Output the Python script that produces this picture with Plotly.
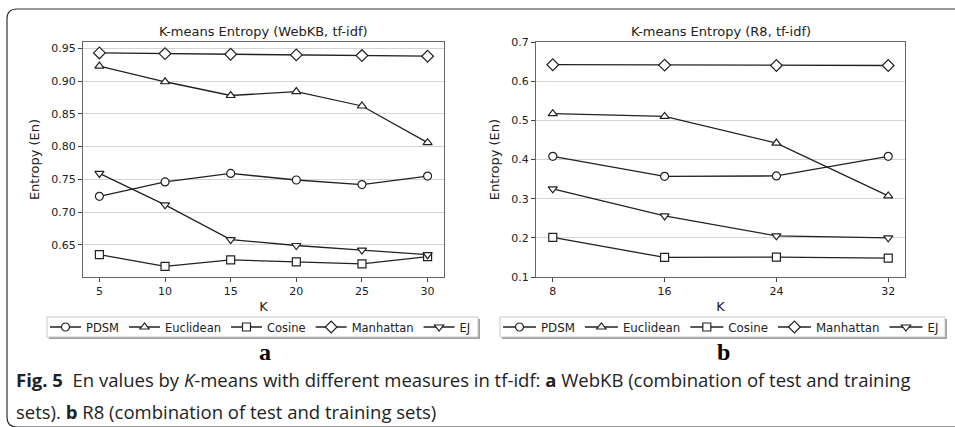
import plotly.graph_objects as go

W, H = 955, 427

names = ["PDSM", "Euclidean", "Cosine", "Manhattan", "EJ"]
symbols = ["circle", "triangle-up", "square", "diamond", "triangle-down"]
marker_sizes = [8, 8, 8, 9, 8]

k_webkb = [5, 10, 15, 20, 25, 30]
webkb_pdsm = [0.724, 0.746, 0.759, 0.749, 0.742, 0.755]
webkb_euclidean = [0.923, 0.899, 0.878, 0.884, 0.862, 0.806]
webkb_cosine = [0.635, 0.617, 0.627, 0.624, 0.621, 0.632]
webkb_manhattan = [0.943, 0.942, 0.941, 0.940, 0.939, 0.938]
webkb_ej = [0.759, 0.711, 0.658, 0.649, 0.642, 0.635]

k_r8 = [8, 16, 24, 32]
r8_pdsm = [0.408, 0.357, 0.358, 0.408]
r8_euclidean = [0.517, 0.510, 0.442, 0.307]
r8_cosine = [0.201, 0.150, 0.151, 0.148]
r8_manhattan = [0.642, 0.641, 0.640, 0.640]
r8_ej = [0.325, 0.256, 0.205, 0.200]

webkb_ticks = [0.65, 0.70, 0.75, 0.80, 0.85, 0.90, 0.95]
r8_ticks = [0.1, 0.2, 0.3, 0.4, 0.5, 0.6, 0.7]

webkb_series = [webkb_pdsm, webkb_euclidean, webkb_cosine, webkb_manhattan, webkb_ej]
r8_series = [r8_pdsm, r8_euclidean, r8_cosine, r8_manhattan, r8_ej]

fig = go.Figure()
LINE = "#222222"
for name, sym, ms, ys in zip(names, symbols, marker_sizes, webkb_series):
    fig.add_trace(go.Scatter(x=k_webkb, y=ys, name=name, mode="lines+markers",
                             line=dict(color=LINE, width=1.3),
                             marker=dict(symbol=sym, size=ms, color="white",
                                         line=dict(color=LINE, width=1.2)),
                             xaxis="x", yaxis="y", legend="legend"))
for name, sym, ms, ys in zip(names, symbols, marker_sizes, r8_series):
    fig.add_trace(go.Scatter(x=k_r8, y=ys, name=name, mode="lines+markers",
                             line=dict(color=LINE, width=1.3),
                             marker=dict(symbol=sym, size=ms, color="white",
                                         line=dict(color=LINE, width=1.2)),
                             xaxis="x2", yaxis="y2", legend="legend2"))

def px_x(p):
    return p / W

def px_y(p):
    return 1 - p / H

FONT = "DejaVu Sans"
axis_common = dict(showline=True, linecolor="#666666", linewidth=1, mirror=True,
                   ticks="outside", ticklen=4, tickcolor="#444444", automargin=False,
                   tickfont=dict(family=FONT, size=11, color="#222222"), zeroline=False)

fig.update_layout(
    template="none",
    width=W, height=H, margin=dict(l=0, r=0, t=0, b=0, autoexpand=False),
    paper_bgcolor="white", plot_bgcolor="white",
    xaxis=dict(domain=[px_x(83), px_x(444)], range=[3.75, 31.25], tickvals=k_webkb,
               showgrid=False, anchor="y",
               title=dict(text="K", font=dict(family=FONT, size=13, color="#222222"), standoff=4),
               **axis_common),
    yaxis=dict(domain=[px_y(277), px_y(42)], range=[0.6009, 0.9597], tickvals=webkb_ticks,
               tickformat=".2f", showgrid=True, gridcolor="#d4d4d4", gridwidth=1, anchor="x",
               title=dict(text="Entropy (En)", font=dict(family=FONT, size=13, color="#222222"), standoff=8),
               **axis_common),
    xaxis2=dict(domain=[px_x(536), px_x(905)], range=[6.8, 33.2], tickvals=k_r8,
                showgrid=False, anchor="y2",
                title=dict(text="K", font=dict(family=FONT, size=13, color="#222222"), standoff=4),
                **axis_common),
    yaxis2=dict(domain=[px_y(277), px_y(42)], range=[0.1, 0.7], tickvals=r8_ticks,
                tickformat=".1f", showgrid=True, gridcolor="#d4d4d4", gridwidth=1, anchor="x2",
                title=dict(text="Entropy (En)", font=dict(family=FONT, size=13, color="#222222"), standoff=8),
                **axis_common),
    legend=dict(orientation="h", x=px_x(45), xanchor="left", y=px_y(327), yanchor="middle",
                bgcolor="rgba(0,0,0,0)", borderwidth=0,
                font=dict(family=FONT, size=11.5, color="#222222"), itemwidth=31,
                tracegroupgap=0),
    legend2=dict(orientation="h", x=px_x(498), xanchor="left", y=px_y(327), yanchor="middle",
                 bgcolor="rgba(0,0,0,0)", borderwidth=0,
                 font=dict(family=FONT, size=11.8, color="#222222"), itemwidth=33,
                 tracegroupgap=0),
    showlegend=True,
)

def note(text, x, y, size, family, xanchor="center", color="#222222"):
    fig.add_annotation(text=text, x=px_x(x), y=px_y(y), xref="paper", yref="paper",
                       xanchor=xanchor, yanchor="middle", showarrow=False,
                       font=dict(family=family, size=size, color=color))

note("K-means Entropy (WebKB, tf-idf)", (83 + 444) / 2, 32, 13, FONT)
note("K-means Entropy (R8, tf-idf)", (536 + 905) / 2, 32, 13, FONT)
note("<b>a</b>", 265, 352, 24, "Liberation Serif", color="black")
note("<b>b</b>", 723, 352, 24, "Liberation Serif", color="black")

CAP = "Open Sans"
note("<b>Fig. 5</b>  En values by <i>K</i>-means with different measures in tf-idf: <b>a</b> WebKB (combination of test and training",
     14, 379, 18.5, CAP, xanchor="left")
note("sets). <b>b</b> R8 (combination of test and training sets)", 14, 411, 18.5, CAP, xanchor="left")

def pt(x, y):
    return f"{px_x(x):.5f},{px_y(y):.5f}"

frame = (f"M {pt(960, 9)} L {pt(17, 9)} Q {pt(7, 9)} {pt(7, 19)} "
         f"L {pt(7, 417)} Q {pt(7, 427)} {pt(17, 427)} L {pt(960, 427)}")
fig.add_shape(type="path", path=frame, xref="paper", yref="paper",
              line=dict(color="#333333", width=1.2))

# matplotlib-style legend boxes with drop shadows
for x0, x1 in [(47, 478), (500, 945)]:
    fig.add_shape(type="rect", x0=px_x(x0 + 2), x1=px_x(x1 + 2), y0=px_y(339), y1=px_y(319),
                  xref="paper", yref="paper", fillcolor="#a0a0a0", line=dict(width=0))
    fig.add_shape(type="rect", x0=px_x(x0), x1=px_x(x1), y0=px_y(337), y1=px_y(317),
                  xref="paper", yref="paper", fillcolor="white",
                  line=dict(color="#c8c8c8", width=1))

fig.write_html("out.html", config={"displayModeBar": False},
               post_script="document.body.style.margin='0';document.body.style.overflow='hidden';")
